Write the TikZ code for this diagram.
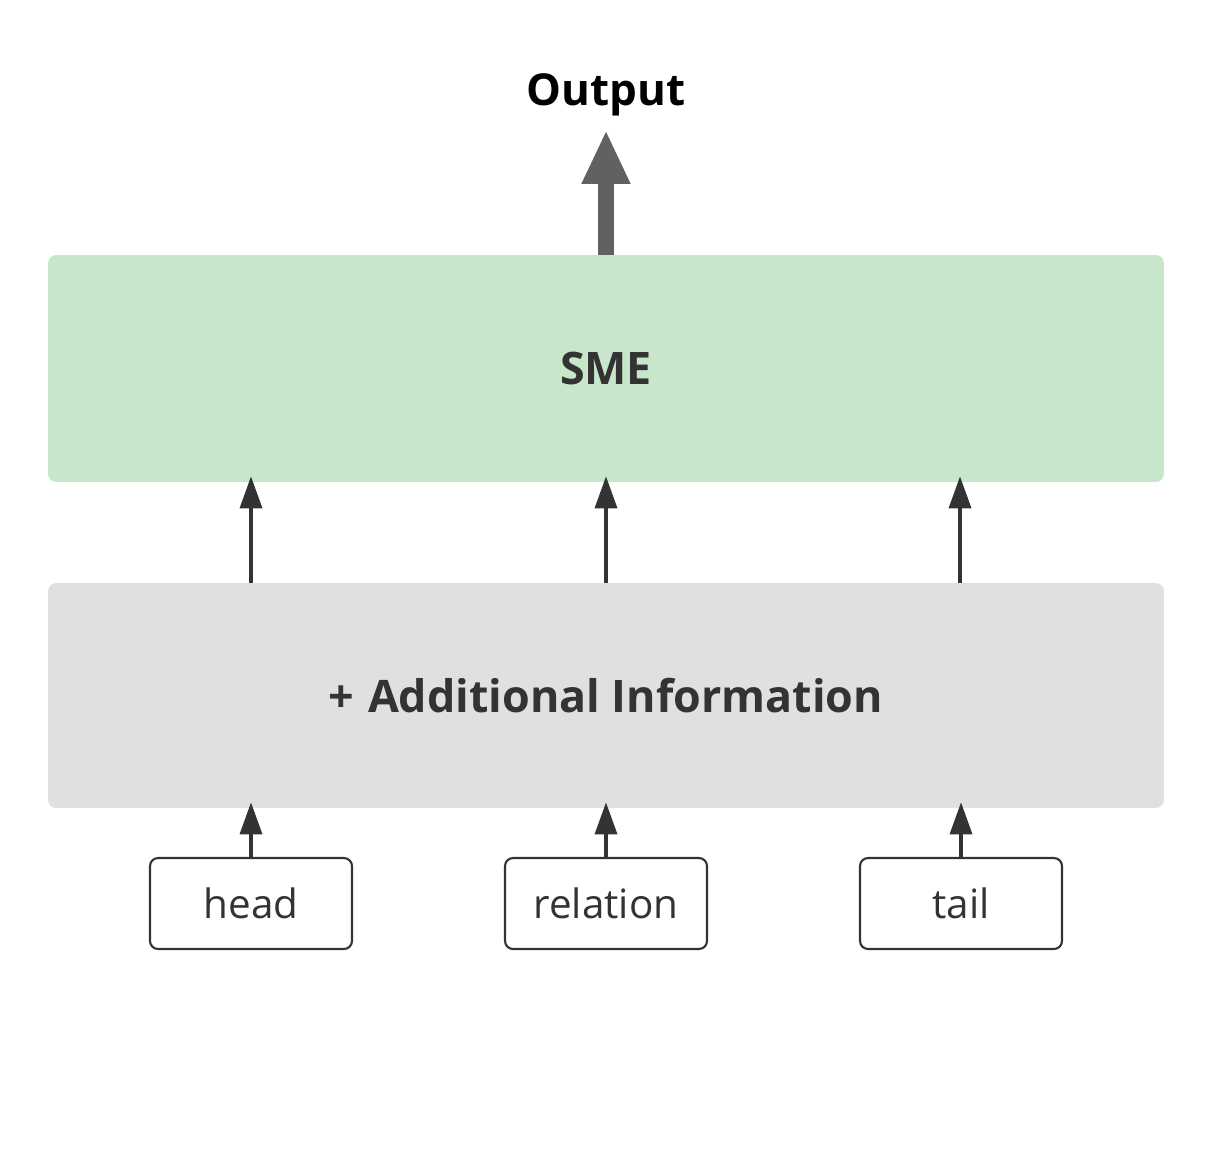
\documentclass[tikz,border=0pt]{standalone}
\usepackage{fontspec}
\setmainfont{Open Sans}
\usetikzlibrary{arrows.meta}
\usetikzlibrary{calc}
\usepackage{xcolor}

\definecolor{smegreen}{HTML}{C8E6C9}
\definecolor{infogray}{HTML}{E0E0E0}
\definecolor{darkline}{HTML}{333333}
\definecolor{outgray}{HTML}{616161}

\begin{document}
\begin{tikzpicture}[x=0.02cm,y=-0.02cm,
    layer/.style={rounded corners=8*0.02cm, minimum width=22.32cm, inner sep=0pt, text=darkline, font=\bfseries\fontsize{25.5}{30}\selectfont},
    inbox/.style={draw=darkline, line width=1.2pt, rounded corners=8*0.02cm, fill=white, minimum width=4.04cm, minimum height=1.82cm, inner sep=0pt, text=darkline, font=\fontsize{23}{28}\selectfont},
    uparrow/.style={draw=darkline, line width=2pt, -{Triangle[length=0.64cm,width=0.44cm]}, shorten >=-0.12cm}
  ]
      \useasboundingbox (0,0) rectangle (1212,1174);

      % Layers
      \node[layer, fill=smegreen, minimum height=4.54cm] (sme) at (606,368.5) {SME};
      \node[layer, fill=infogray, minimum height=4.5cm] (info) at (606,695.5) {+\hspace{0.3em}Additional Information};

      % Output
      \node[anchor=base, text=black, font=\bfseries\fontsize{25}{30}\selectfont] (out) at (606,105) {Output};
      \coordinate (tip) at (606,130);
      \draw[outgray, line width=0.32cm, -{Triangle[length=1.08cm,width=0.9cm]}] (sme.north) -- (tip);

      % Inputs
      \foreach \name/\x/\lbl in {head/251/head, rel/606/relation, tail/961/tail}
      {
        \node[inbox] (\name) at (\x,903.5) {\lbl};
        \draw[uparrow] (\name.north) -- (\name.north |- info.south);
      }

      % Between the layers
      \foreach \x in {251,606,960}
      {
        \coordinate (B\x) at (\x,583);
        \draw[uparrow] (B\x) -- (B\x |- sme.south);
      }
  \end{tikzpicture}
\end{document}
